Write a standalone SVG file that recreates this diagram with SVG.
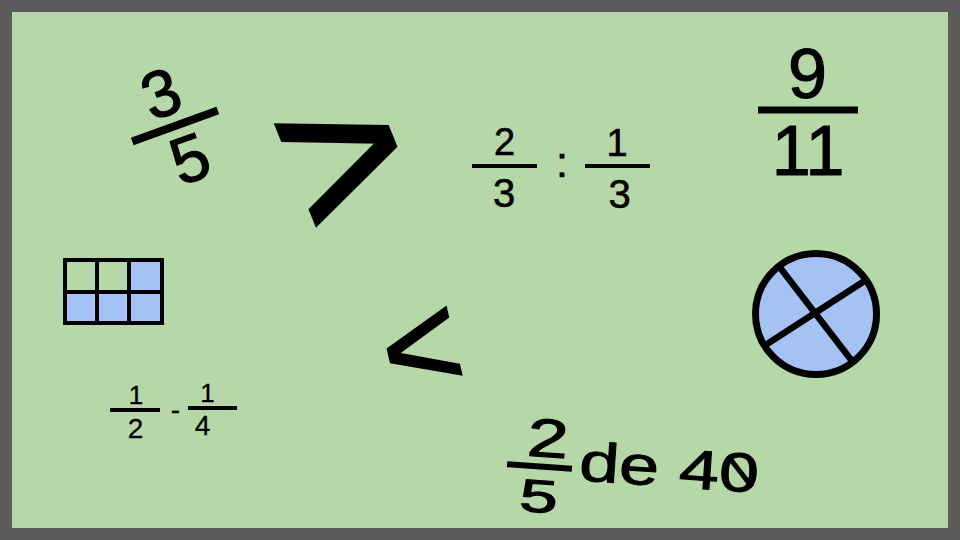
<svg xmlns="http://www.w3.org/2000/svg" width="960" height="540" viewBox="0 0 960 540">
<style>
.t{font-family:"Liberation Sans",Arial,sans-serif;fill:#000;text-anchor:middle;stroke:#000;stroke-width:0.6}
.b1{stroke-width:1.2}
.bar{fill:#000}
.blue{fill:#a4c2f4}
.ln{stroke:#000;fill:none}
</style>
<rect x="0" y="0" width="960" height="540" fill="#5b5b5b"/>
<rect x="12" y="12" width="936" height="516" fill="#b6d7a8"/>

<g id="frac-3-5" transform="rotate(-20 175 126)">
<text class="t b1" x="173" y="113.5" font-size="66">3</text>
<rect class="bar" x="129.5" y="122" width="91" height="8"/>
<text class="t b1" x="178" y="184.5" font-size="66">5</text>
</g>

<g id="greater">
<text class="t" x="343" y="225" font-size="210" style="stroke-width:4;stroke-linejoin:miter" transform="rotate(-22 343 153)">&gt;</text>
</g>

<g id="div-2-3-1-3">
<text class="t" x="504.5" y="155" font-size="38">2</text>
<rect class="bar" x="472" y="164" width="65" height="4"/>
<text class="t" x="504" y="207" font-size="40">3</text>
<text class="t" x="562" y="177" font-size="43">:</text>
<text class="t" x="617" y="156" font-size="38">1</text>
<rect class="bar" x="585" y="164" width="65" height="4"/>
<text class="t" x="619.5" y="208" font-size="40">3</text>
</g>

<g id="frac-9-11">
<text class="t b1" x="807.5" y="98" font-size="70">9</text>
<rect class="bar" x="758" y="106.5" width="100" height="7"/>
<text class="t b1" x="808" y="175" font-size="70">11</text>
</g>

<g id="grid">
<rect class="blue" x="129" y="260" width="33" height="32"/>
<rect class="blue" x="65" y="292" width="97" height="31"/>
<rect class="ln" x="65" y="260" width="97" height="63" stroke-width="4"/>
<path class="ln" d="M97 260V323M129 260V323M65 292H162" stroke-width="4"/>
</g>

<g id="less">
<text class="t" x="421" y="393" font-size="136" style="stroke-width:2;stroke-linejoin:miter" transform="rotate(-13 421 347)">&lt;</text>
</g>

<g id="sub-1-2-1-4">
<text class="t" x="136" y="404" font-size="26" style="stroke-width:0.3">1</text>
<rect class="bar" x="110" y="408" width="50" height="4"/>
<text class="t" x="135.5" y="438" font-size="28" style="stroke-width:0.3">2</text>
<text class="t" x="175.5" y="418.5" font-size="28" style="stroke-width:0.3">-</text>
<text class="t" x="207.5" y="402" font-size="26" style="stroke-width:0.3">1</text>
<rect class="bar" x="188" y="406" width="49" height="4"/>
<text class="t" x="202.5" y="435" font-size="28" style="stroke-width:0.3">4</text>
</g>

<g id="circle">
<circle cx="816" cy="314" r="60.5" fill="#a4c2f4" stroke="#000" stroke-width="7"/>
<path class="ln" d="M778 265L852 361M866 280L764 346" stroke-width="6.5"/>
</g>

<g id="frac-2-5-de-40">
<g transform="rotate(4 640 470)">
<text class="t b1" x="546" y="463.5" font-size="54" textLength="41" lengthAdjust="spacingAndGlyphs">2</text>
<rect class="bar" x="507" y="470.5" width="65" height="6"/>
<text class="t b1" x="541" y="519" font-size="46" textLength="38" lengthAdjust="spacingAndGlyphs">5</text>
<text class="t" x="669" y="484.5" font-size="55" style="stroke-width:0.9" textLength="180" lengthAdjust="spacingAndGlyphs">de 40</text>
</g>
<path class="ln" d="M728 456L752 487" stroke-width="5"/>
</g>
</svg>
